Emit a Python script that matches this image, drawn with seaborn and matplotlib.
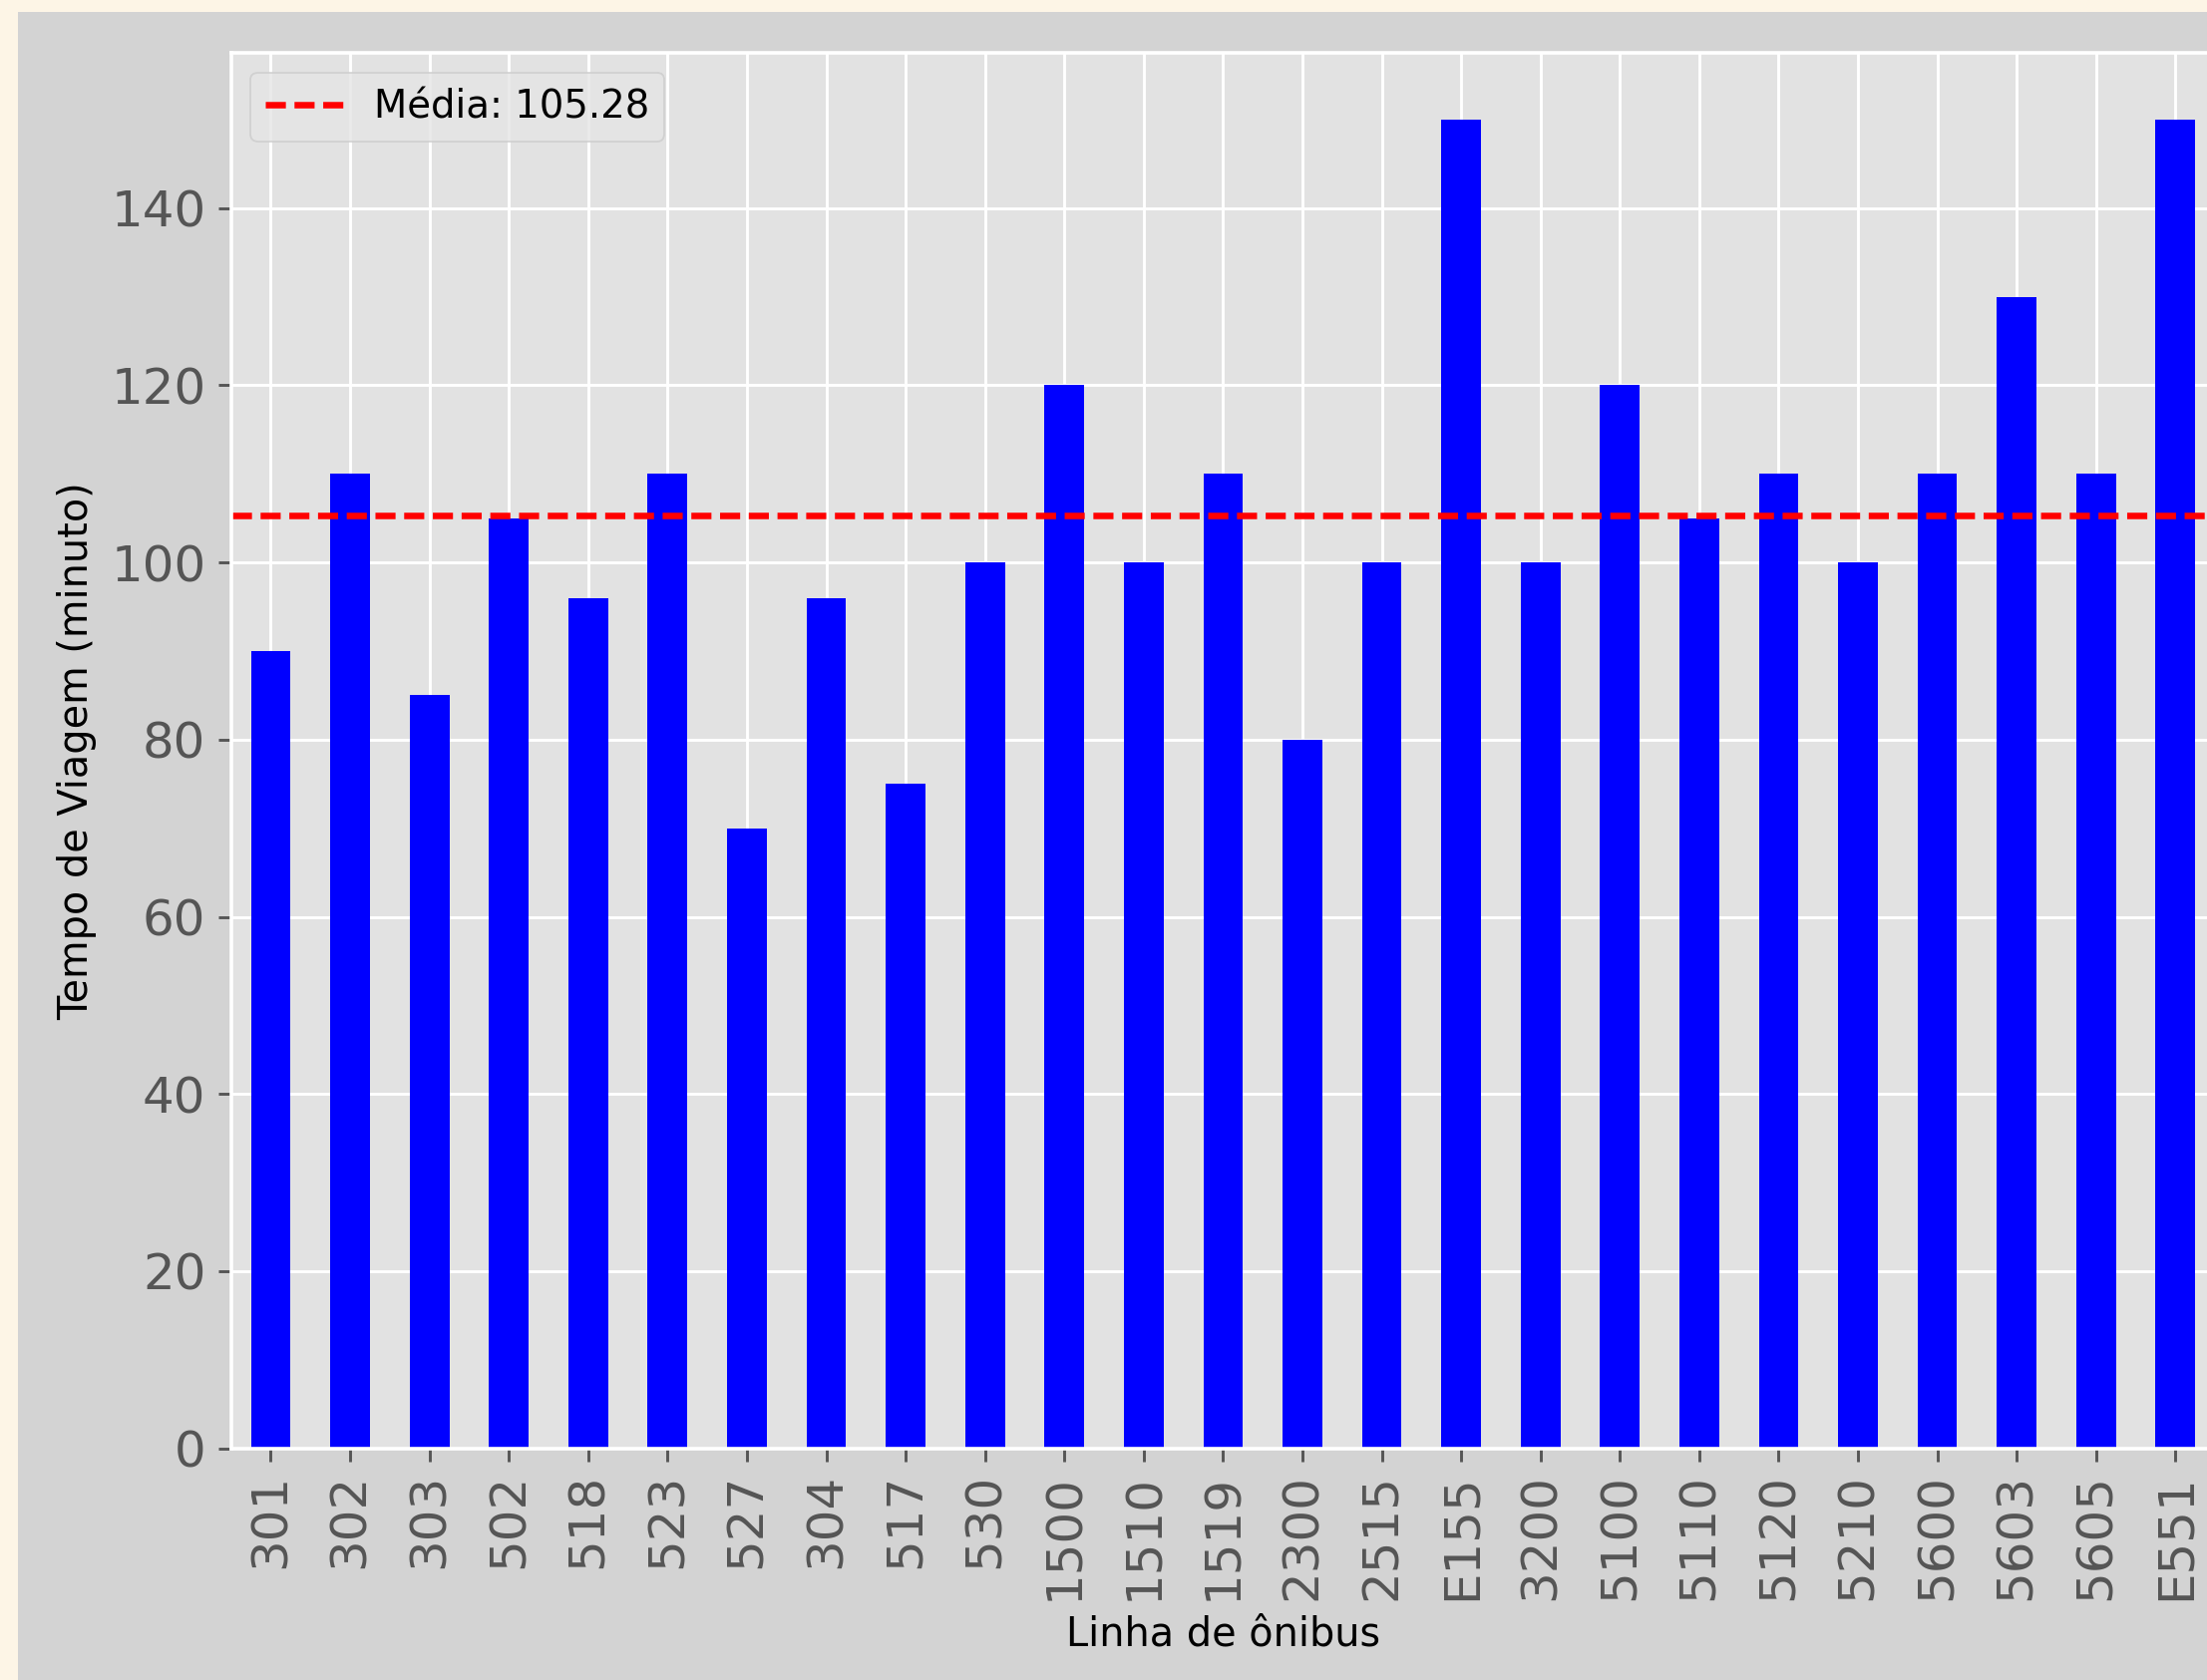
import numpy as np
import pandas as pd
import matplotlib
matplotlib.use("Agg")
import matplotlib.pyplot as plt
import seaborn as sns
from matplotlib.patches import Rectangle

linhas = ["301", "302", "303", "502", "518", "523", "527", "304", "517", "530",
          "1500", "1510", "1519", "2300", "2515", "E155", "3200", "5100", "5110",
          "5120", "5210", "5600", "5603", "5605", "E551"]
tempos = [90, 110, 85, 105, 96, 110, 70, 96, 75, 100,
          120, 100, 110, 80, 100, 150, 100, 120, 105,
          110, 100, 110, 130, 110, 150]

df = pd.DataFrame({"linha": linhas, "tempo": tempos})
media = float(np.mean(tempos))

plt.style.use("ggplot")
DPI = 260
fig = plt.figure(figsize=(2213 / DPI, 1685 / DPI), dpi=DPI, facecolor="oldlace")
# inner gray figure area (offset inside cream border)
fig.patches.append(Rectangle((18 / 2213, 0), 1.0, (1685 - 12) / 1685,
                             transform=fig.transFigure, facecolor="lightgray",
                             edgecolor="none", zorder=-1))

ax = fig.add_axes([231.7 / 2213, (1685 - 1452.7) / 1685,
                   (2221.1 - 231.7) / 2213, (1452.7 - 53.3) / 1685])
ax.set_facecolor("#E2E2E2")

sns.barplot(data=df, x="linha", y="tempo", order=linhas, color="blue",
            saturation=1, width=0.5, linewidth=0, ax=ax)
ax.axhline(media, color="red", linestyle="--", linewidth=1.8, dashes=(3.1, 1.33),
           label=f"Média: {media:.2f}")

ax.set_xlim(-0.5, len(linhas) - 0.5)
ax.set_ylim(0, 157.5)
ax.xaxis.grid(True, color="white", linewidth=0.8)
ax.yaxis.grid(True, color="white", linewidth=0.8)
ax.set_axisbelow(True)

ax.set_xlabel("Linha de ônibus", fontsize=11, color="black")
ax.set_ylabel("Tempo de Viagem (minuto)", fontsize=11, color="black")
ax.tick_params(axis="both", labelsize=13.8, labelcolor="#555555", color="#555555")
plt.setp(ax.get_xticklabels(), rotation=90)

leg = ax.legend(loc="upper left", fontsize=10.7)

fig.savefig("out.png", dpi=DPI, facecolor=fig.get_facecolor())
